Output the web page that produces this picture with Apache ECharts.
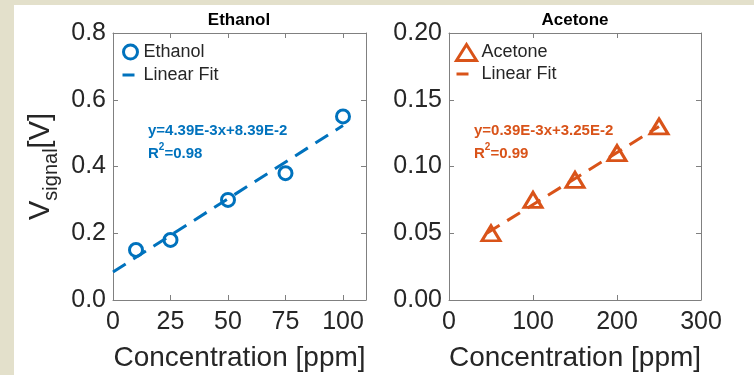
<!DOCTYPE html>
<html>
<head>
<meta charset="utf-8">
<title>Ethanol / Acetone</title>
<script src="https://cdn.jsdelivr.net/npm/echarts@6/dist/echarts.min.js"></script>
<style>
html, body {
  margin: 0;
  padding: 0;
  width: 754px;
  height: 375px;
  overflow: hidden;
  background: #e3e0cb;
}
#chart {
  position: absolute;
  left: 14px;
  top: 5px;
  width: 740px;
  height: 370px;
  background: #fff;
}
</style>
</head>
<body>
<div id="chart"></div>
<script>
// ethanol panel
var ethanolConc = [10, 25, 50, 75, 100];
var ethanolSignal = [0.15, 0.18, 0.30, 0.38, 0.55];
var ethanolFitX = [0, 100];
var ethanolFitY = [0.0839, 0.5229];
var ethanolXRange = [0, 110];
var ethanolXStep = 25;
var ethanolYRange = [0, 0.8];
var ethanolYStep = 0.2;

// acetone panel
var acetoneConc = [50, 100, 150, 200, 250];
var acetoneSignal = [0.05, 0.075, 0.09, 0.11, 0.13];
var acetoneFitX = [45, 250];
var acetoneFitY = [0.05, 0.13];
var acetoneXRange = [0, 300];
var acetoneXStep = 100;
var acetoneYRange = [0, 0.2];
var acetoneYStep = 0.05;

var panelTitles = ["Ethanol", "Acetone"];
var fitText = ["y=4.39E-3x+8.39E-2", "y=0.39E-3x+3.25E-2"];
var r2Text = ["0.98", "0.99"];

var BLUE = "#0072BD";
var ORANGE = "#D95319";
var FONT = "Liberation Sans, Arial, Helvetica, sans-serif";
var LINE = "#808080";
var TEXT = "#262626";

function pairs(xs, ys) {
  return xs.map(function (x, i) { return [x, ys[i]]; });
}

function xAxisOf(grid, range, step, top, digits) {
  return {
    type: "value",
    gridIndex: grid,
    position: top ? "top" : "bottom",
    min: range[0],
    max: range[1],
    interval: step,
    name: top ? "" : "Concentration [ppm]",
    nameLocation: "middle",
    nameGap: 44,
    nameTextStyle: { fontSize: 28, color: TEXT, fontFamily: FONT },
    axisLine: { show: true, onZero: false, lineStyle: { color: LINE, width: 1 } },
    axisTick: { show: true, inside: true, length: 5, lineStyle: { color: LINE } },
    axisLabel: {
      show: !top,
      showMaxLabel: range[1] % step === 0,
      margin: 10,
      fontSize: 25,
      color: TEXT,
      fontFamily: FONT,
      formatter: function (v) { return v.toFixed(digits); }
    },
    splitLine: { show: false }
  };
}

function yAxisOf(grid, range, step, right, digits, withName) {
  return {
    type: "value",
    gridIndex: grid,
    position: right ? "right" : "left",
    min: range[0],
    max: range[1],
    interval: step,
    name: withName ? "{v|V}{s|signal}{v|[V]}" : "",
    nameLocation: "middle",
    nameRotate: 90,
    nameGap: 52,
    nameTextStyle: {
      rich: {
        v: { fontSize: 29, color: TEXT, fontFamily: FONT, lineHeight: 40 },
        s: { fontSize: 20, color: TEXT, fontFamily: FONT, lineHeight: 10, verticalAlign: "bottom" }
      }
    },
    axisLine: { show: true, onZero: false, lineStyle: { color: LINE, width: 1 } },
    axisTick: { show: true, inside: true, length: 5, lineStyle: { color: LINE } },
    axisLabel: {
      show: !right,
      margin: 7,
      fontSize: 25,
      color: TEXT,
      fontFamily: FONT,
      formatter: function (v) { return v.toFixed(digits); }
    },
    splitLine: { show: false }
  };
}

function noteText(x, color, i) {
  return {
    type: "text",
    x: x,
    y: 114,
    style: {
      text: "{t|" + fitText[i] + "}\n{t|R}{p|2}{t|=" + r2Text[i] + "}",
      verticalAlign: "top",
      rich: {
        t: { fontSize: 15, fontWeight: "bold", fill: color, fontFamily: FONT, lineHeight: 23 },
        p: { fontSize: 10, fontWeight: "bold", fill: color, fontFamily: FONT, lineHeight: 14, verticalAlign: "top" }
      }
    }
  };
}

function titleText(x, i) {
  return {
    type: "text",
    x: x,
    y: 15,
    style: {
      text: panelTitles[i],
      align: "center",
      verticalAlign: "middle",
      fontSize: 17,
      fontWeight: "bold",
      fontFamily: FONT,
      fill: "#000"
    }
  };
}

// legend entries: hollow marker, and a single dash for the fit
function markerEntry(name, color) {
  return { name: name, itemStyle: { color: "rgba(255,255,255,0)", borderColor: color, borderWidth: 3, opacity: 1 } };
}
function dashEntry(name, color) {
  return {
    name: name,
    itemStyle: { color: "rgba(255,255,255,0)", borderColor: "rgba(255,255,255,0)", borderWidth: 0 },
    lineStyle: { color: color, width: 3, type: [12, 40], opacity: 1 }
  };
}

var myChart = echarts.init(document.getElementById("chart"), null, { renderer: "canvas" });

myChart.setOption({
  animation: false,
  backgroundColor: "#fff",
  grid: [
    { left: 99, top: 28, width: 253, height: 267, containLabel: false, outerBoundsMode: "none" },
    { left: 435, top: 28, width: 252, height: 267, containLabel: false, outerBoundsMode: "none" }
  ],
  xAxis: [
    xAxisOf(0, ethanolXRange, ethanolXStep, false, 0),
    xAxisOf(0, ethanolXRange, ethanolXStep, true, 0),
    xAxisOf(1, acetoneXRange, acetoneXStep, false, 0),
    xAxisOf(1, acetoneXRange, acetoneXStep, true, 0)
  ],
  yAxis: [
    yAxisOf(0, ethanolYRange, ethanolYStep, false, 1, true),
    yAxisOf(0, ethanolYRange, ethanolYStep, true, 1, false),
    yAxisOf(1, acetoneYRange, acetoneYStep, false, 2, false),
    yAxisOf(1, acetoneYRange, acetoneYStep, true, 2, false)
  ],
  legend: [
    {
      left: 102,
      top: 33,
      orient: "vertical",
      itemWidth: 16,
      itemHeight: 14,
      itemGap: 5,
      selectedMode: false,
      data: [markerEntry("Ethanol", BLUE), dashEntry("Linear Fit", BLUE)],
      textStyle: { fontSize: 18, color: TEXT, fontFamily: FONT }
    },
    {
      left: 436,
      top: 33,
      orient: "vertical",
      itemWidth: 20,
      itemHeight: 16,
      itemGap: 3,
      selectedMode: false,
      data: [markerEntry("Acetone", ORANGE), dashEntry("Linear Fit ", ORANGE)],
      textStyle: { fontSize: 18, color: TEXT, fontFamily: FONT }
    }
  ],
  graphic: [
    titleText(225, 0),
    titleText(561, 1),
    noteText(134, BLUE, 0),
    noteText(460, ORANGE, 1)
  ],
  series: [
    {
      name: "Ethanol",
      type: "scatter",
      xAxisIndex: 0,
      yAxisIndex: 0,
      symbol: "circle",
      symbolSize: 13,
      itemStyle: { color: "rgba(255,255,255,0)", borderColor: BLUE, borderWidth: 3, opacity: 1 },
      data: pairs(ethanolConc, ethanolSignal)
    },
    {
      name: "Linear Fit",
      type: "line",
      xAxisIndex: 0,
      yAxisIndex: 0,
      symbol: "none",
      showSymbol: false,
      z: 3,
      itemStyle: { color: BLUE },
      lineStyle: { color: BLUE, width: 3, type: [15, 9] },
      data: pairs(ethanolFitX, ethanolFitY)
    },
    {
      name: "Acetone",
      type: "scatter",
      xAxisIndex: 2,
      yAxisIndex: 2,
      symbol: "triangle",
      symbolSize: [18, 15],
      itemStyle: { color: "rgba(255,255,255,0)", borderColor: ORANGE, borderWidth: 3, opacity: 1 },
      data: pairs(acetoneConc, acetoneSignal)
    },
    {
      name: "Linear Fit ",
      type: "line",
      xAxisIndex: 2,
      yAxisIndex: 2,
      symbol: "none",
      showSymbol: false,
      z: 3,
      itemStyle: { color: ORANGE },
      lineStyle: { color: ORANGE, width: 3, type: [15, 9] },
      data: pairs(acetoneFitX, acetoneFitY)
    }
  ]
});

window.addEventListener("resize", function () {
  myChart.resize();
});
</script>
</body>
</html>
